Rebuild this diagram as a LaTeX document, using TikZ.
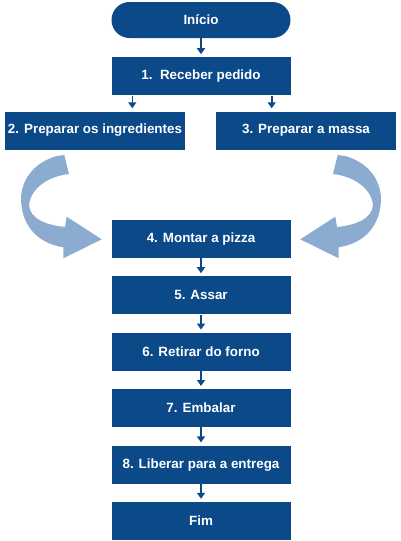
\documentclass[tikz,border=0pt]{standalone}
\usepackage{fontspec}
\setmainfont{Liberation Sans}
\usetikzlibrary{arrows.meta}
\usetikzlibrary{positioning}

\definecolor{fluxoazul}{RGB}{11,73,137}
\definecolor{setaclara}{RGB}{139,172,208}

\begin{document}
\begin{tikzpicture}[
					x=1pt, y=1pt,
					node distance=18pt,
					block/.style={fill=fluxoazul, text=white, font=\fontsize{13.4}{16}\selectfont\bfseries, align=center, minimum height=38pt, minimum width=179pt, inner sep=0pt},
					terminal/.style={block, minimum height=36pt, rounded corners=18pt},
					seta/.style={draw=fluxoazul, line width=1.6pt, shorten >=3pt, -{Triangle[width=8pt,length=6pt]}}
				]
					\useasboundingbox (0,0) rectangle (401,-541);
					\node[terminal] (inicio) at (201,-20) {Início};
					\node[block, below=19pt of inicio] (receber) {1.\ \ Receber pedido};
					\node[block, minimum width=180pt] (ingred) at (95,-130.5) {2. Preparar os ingredientes};
					\node[block, minimum width=180pt] (massa) at (306,-130.5) {3. Preparar a massa};
					\node[block] (montar) at (201,-239) {4. Montar a pizza};
					\node[block, below=of montar] (assar) {5. Assar};
					\node[block, below=of assar] (retirar) {6. Retirar do forno};
					\node[block, below=of retirar] (embalar) {7. Embalar};
					\node[block, below=of embalar] (liberar) {8. Liberar para a entrega};
					\node[block, below=of liberar] (fim) {Fim};

					\draw[seta] (inicio) -- (receber);
					\draw[seta] ([xshift=21pt]receber.south west) -- ([xshift=21pt]receber.south west |- ingred.north);
					\draw[seta] ([xshift=-19pt]receber.south east) -- ([xshift=-19pt]receber.south east |- massa.north);
					\draw[seta] (montar) -- (assar);
					\draw[seta] (assar) -- (retirar);
					\draw[seta] (retirar) -- (embalar);
					\draw[seta] (embalar) -- (liberar);
					\draw[seta] (liberar) -- (fim);

					% setas curvas
					\foreach \lado/\desl in {1/0, -1/402} {
						\begin{scope}[xshift=\desl pt, xscale=\lado]
							\fill[setaclara] (56.7,-156) -- (64.3,-155) -- (69,-174)
								.. controls (50,-176) and (31,-187) .. (29,-205)
								.. controls (30,-219) and (46,-225) .. (65,-227)
								-- (66.7,-216.7) -- (101.7,-239.3) -- (63.3,-258.3) -- (63.3,-247.3)
								.. controls (36,-243) and (21,-224) .. (21,-198)
								.. controls (22,-177) and (36,-162) .. (56.7,-156) -- cycle;
						\end{scope}
					}
				\end{tikzpicture}
\end{document}
